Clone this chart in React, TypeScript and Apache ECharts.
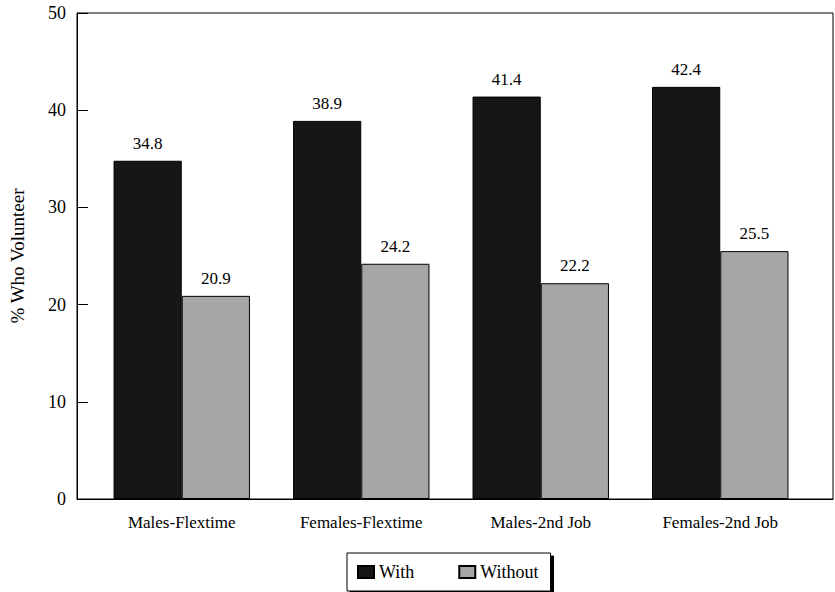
import React, { useEffect, useRef } from "react";
import * as echarts from "echarts";

const categories = ["Males-Flextime", "Females-Flextime", "Males-2nd Job", "Females-2nd Job"];
const withValues = [34.8, 38.9, 41.4, 42.4];
const withoutValues = [20.9, 24.2, 22.2, 25.5];
const yTicks = [0, 10, 20, 30, 40, 50];
const seriesNames = ["With", "Without"];

const FONT = "'Liberation Serif', 'Times New Roman', serif";

export default function App() {
  const ref = useRef<HTMLDivElement>(null);
  useEffect(() => {
    if (!ref.current) return;
    const chart = echarts.init(ref.current, null, { renderer: "svg" });
    const labelStyle = {
      show: true,
      position: "top" as const,
      distance: 9,
      color: "#000",
      fontFamily: FONT,
      fontSize: 17,
      formatter: (p: any) => Number(p.value).toFixed(1),
    };
    chart.setOption({
      animation: false,
      backgroundColor: "#fff",
      textStyle: { fontFamily: FONT, color: "#000" },
      grid: [
        { left: 67, width: 766, top: 13, bottom: 93, show: true, borderColor: "#000", borderWidth: 1, backgroundColor: "transparent" },
        { left: 92, width: 718, top: 13, bottom: 93, show: false },
      ],
      xAxis: [
        {
          gridIndex: 0,
          type: "category",
          data: categories,
          axisLine: { show: true, lineStyle: { color: "#000" } },
          axisTick: { show: false },
          axisLabel: { show: false },
        },
        {
          gridIndex: 1,
          type: "category",
          data: categories,
          axisLine: { show: false },
          axisTick: { show: false },
          axisLabel: { color: "#000", fontFamily: FONT, fontSize: 17, margin: 15 },
        },
      ],
      yAxis: [
        {
          gridIndex: 0,
          type: "value",
          min: yTicks[0],
          max: yTicks[yTicks.length - 1],
          interval: 10,
          name: "% Who Volunteer",
          nameLocation: "middle",
          nameGap: 50,
          nameTextStyle: { color: "#000", fontFamily: FONT, fontSize: 19 },
          axisLine: { show: true, lineStyle: { color: "#000" } },
          axisTick: { show: true, inside: true, length: 11, lineStyle: { color: "#000" } },
          axisLabel: { color: "#000", fontFamily: FONT, fontSize: 18, margin: 11 },
          splitLine: { show: false },
        },
        {
          gridIndex: 1,
          type: "value",
          min: 0,
          max: 50,
          interval: 10,
          show: false,
        },
      ],
      legend: {
        data: seriesNames,
        left: 347,
        top: 553,
        orient: "horizontal",
        icon: "rect",
        itemWidth: 16,
        itemHeight: 12,
        itemGap: 44,
        padding: [10, 12, 10, 10],
        borderColor: "#000",
        borderWidth: 1,
        backgroundColor: "#fff",
        shadowColor: "#000",
        shadowOffsetX: 3,
        shadowOffsetY: 3,
        shadowBlur: 0,
        textStyle: { color: "#000", fontFamily: FONT, fontSize: 18 },
      },
      series: [
        {
          name: seriesNames[0],
          type: "bar",
          xAxisIndex: 1,
          yAxisIndex: 1,
          data: withValues,
          barGap: "0%",
          barCategoryGap: "24%",
          itemStyle: { color: "#161616", borderColor: "#000", borderWidth: 1 },
          label: labelStyle,
        },
        {
          name: seriesNames[1],
          type: "bar",
          xAxisIndex: 1,
          yAxisIndex: 1,
          data: withoutValues,
          barGap: "0%",
          barCategoryGap: "24%",
          itemStyle: { color: "#a6a6a6", borderColor: "#000", borderWidth: 1 },
          label: labelStyle,
        },
      ],
    });
    return () => chart.dispose();
  }, []);
  return <div ref={ref} style={{ width: 835, height: 592, position: "absolute", left: 0, top: 0 }} />;
}
